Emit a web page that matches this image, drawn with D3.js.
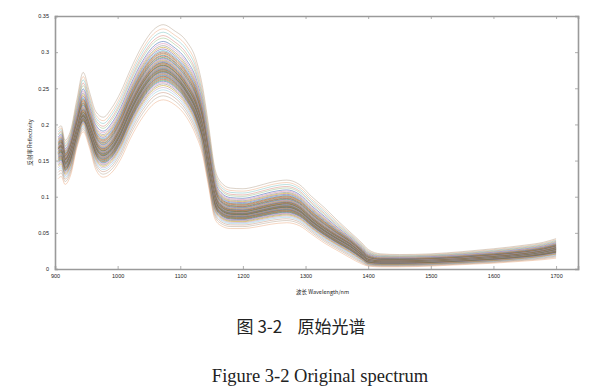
<!DOCTYPE html>
<html>
<head>
<meta charset="utf-8">
<script src="https://cdn.jsdelivr.net/npm/d3@7"></script>
<style>
  body { margin: 0; background: #fff; }
  svg { display: block; }
</style>
</head>
<body>
<script>
// wavelength grid (nm)
const wavelengths = [905, 910, 916, 925, 935, 945, 955, 965, 977, 990, 1005, 1020, 1040, 1060, 1073, 1090, 1110, 1125, 1135, 1145, 1155, 1165, 1180, 1200, 1220, 1245, 1270, 1290, 1310, 1330, 1350, 1370, 1390, 1400, 1420, 1450, 1500, 1550, 1600, 1650, 1680, 1700];

// middle of the bundle
const midCurve = [0.165, 0.168, 0.15, 0.162, 0.19, 0.215, 0.195, 0.172, 0.162, 0.17, 0.192, 0.222, 0.255, 0.276, 0.28, 0.272, 0.25, 0.225, 0.195, 0.145, 0.1, 0.085, 0.079, 0.078, 0.081, 0.086, 0.089, 0.083, 0.068, 0.055, 0.044, 0.034, 0.02, 0.012, 0.01, 0.01, 0.011, 0.013, 0.016, 0.02, 0.024, 0.028];
// upper edge of the bundle
const highCurve = [0.195, 0.198, 0.178, 0.192, 0.235, 0.272, 0.245, 0.218, 0.21, 0.222, 0.245, 0.275, 0.31, 0.333, 0.338, 0.33, 0.315, 0.29, 0.255, 0.2, 0.14, 0.12, 0.112, 0.111, 0.114, 0.12, 0.123, 0.117, 0.1, 0.085, 0.068, 0.052, 0.036, 0.027, 0.021, 0.02, 0.021, 0.024, 0.028, 0.033, 0.037, 0.042];
// lower edge of the bundle
const lowCurve = [0.125, 0.128, 0.117, 0.13, 0.168, 0.19, 0.168, 0.138, 0.127, 0.133, 0.152, 0.18, 0.21, 0.23, 0.234, 0.228, 0.21, 0.185, 0.16, 0.115, 0.07, 0.06, 0.056, 0.056, 0.058, 0.062, 0.064, 0.06, 0.048, 0.036, 0.026, 0.016, 0.007, 0.004, 0.003, 0.003, 0.004, 0.006, 0.008, 0.011, 0.013, 0.015];

// where each sample sits in the bundle (-1 = lower edge, 0 = middle, 1 = upper edge)
const sampleLevels = [1.0, 0.9, 0.82, 0.74, 0.68, 0.6, 0.55, 0.5, 0.46, 0.42, 0.38, 0.35, 0.32, 0.3, 0.27, 0.25, 0.22, 0.2, 0.18, 0.16, 0.14, 0.12, 0.1, 0.09, 0.07, 0.06, 0.04, 0.03, 0.02, 0.0, -0.01, -0.03, -0.04, -0.06, -0.07, -0.09, -0.1, -0.12, -0.13, -0.15, -0.16, -0.18, -0.2, -0.21, -0.23, -0.25, -0.27, -0.29, -0.31, -0.33, -0.35, -0.38, -0.41, -0.44, -0.48, -0.52, -0.57, -0.63, -0.7, -0.78, -0.88, -1.0];

const lineColors = ['#8c6d4f', '#e07b39', '#2a9d9a', '#c0392b', '#5b9b3c', '#4a6fb5', '#d98cb3', '#8e8e8e', '#c9a227', '#7d5aa6', '#3fa7c9', '#a0522d'];

const yTicks = [0, 0.05, 0.1, 0.15, 0.2, 0.25, 0.3, 0.35];
const xTicks = [900, 1000, 1100, 1200, 1300, 1400, 1500, 1600, 1700];

const W = 600, H = 391;
const margin = {top: 16, right: 22, bottom: 122, left: 55};
const width = W - margin.left - margin.right;
const height = H - margin.top - margin.bottom;

const svg = d3.select("body").append("svg")
    .attr("width", W)
    .attr("height", H);

const g = svg.append("g")
    .attr("transform", "translate(" + margin.left + "," + margin.top + ")");

const xScale = d3.scaleLinear().domain([900, 1735]).range([0, width]);
const yScale = d3.scaleLinear().domain([0, 0.35]).range([height, 0]);

// build each series from the read envelopes
const series = sampleLevels.map(level => wavelengths.map((w, i) => {
    const v = level >= 0
        ? midCurve[i] + level * (highCurve[i] - midCurve[i])
        : midCurve[i] + level * (midCurve[i] - lowCurve[i]);
    return {w: w, v: v};
}));

const line = d3.line()
    .curve(d3.curveMonotoneX)
    .x(d => xScale(d.w))
    .y(d => yScale(d.v));

g.selectAll(".spec")
    .data(series)
    .enter().append("path")
    .attr("class", "spec")
    .attr("fill", "none")
    .attr("stroke", (d, i) => lineColors[i % lineColors.length])
    .attr("stroke-opacity", (d, i) => Math.abs(sampleLevels[i]) > 0.6 ? 0.35 : 0.65)
    .attr("stroke-width", 0.9)
    .attr("d", line);

// axes (MATLAB style box with inward ticks)
const axisColor = "#9a9a9a";
const tickFont = "5.5px Arial";

const xAxis = g.append("g")
    .attr("transform", "translate(0," + height + ")")
    .call(d3.axisBottom(xScale).tickValues(xTicks).tickSize(-3).tickPadding(5).tickFormat(d3.format("d")));
const xAxisTop = g.append("g")
    .call(d3.axisTop(xScale).tickValues(xTicks).tickSize(-3).tickFormat(""));
const yAxis = g.append("g")
    .call(d3.axisLeft(yScale).tickValues(yTicks).tickSize(-3).tickPadding(6).tickFormat(d => d === 0 ? "0" : d3.format("")(+d.toFixed(2))));
const yAxisRight = g.append("g")
    .attr("transform", "translate(" + width + ",0)")
    .call(d3.axisRight(yScale).tickValues(yTicks).tickSize(-3).tickFormat(""));

[xAxis, xAxisTop, yAxis, yAxisRight].forEach(a => {
    a.select(".domain").attr("stroke", axisColor).attr("stroke-width", 1.6);
    a.selectAll(".tick line").attr("stroke", axisColor).attr("stroke-width", 0.8);
    a.selectAll("text").style("font", tickFont).attr("fill", "#222");
});

// axis titles
g.append("text")
    .attr("x", width / 2 + 6)
    .attr("y", height + 25)
    .attr("text-anchor", "middle")
    .style("font", "5.5px 'Noto Sans CJK SC', Arial")
    .attr("fill", "#222")
    .text("波长 Wavelength/nm");

g.append("text")
    .attr("transform", "translate(-23," + (height / 2) + ") rotate(-90)")
    .attr("text-anchor", "middle")
    .style("font", "5.5px 'Noto Sans CJK SC', Arial")
    .attr("fill", "#222")
    .text("反射率 Reflectivity");

// captions
svg.append("text")
    .attr("x", 301)
    .attr("y", 333)
    .attr("text-anchor", "middle")
    .attr("xml:space", "preserve")
    .style("font", "17px 'Noto Sans CJK SC', 'Liberation Serif'")
    .attr("fill", "#222")
    .text("图 3-2    原始光谱");

svg.append("text")
    .attr("x", 320)
    .attr("y", 382)
    .attr("text-anchor", "middle")
    .style("font", "18.5px 'Liberation Serif', serif")
    .attr("fill", "#222")
    .text("Figure 3-2 Original spectrum");
</script>
</body>
</html>
